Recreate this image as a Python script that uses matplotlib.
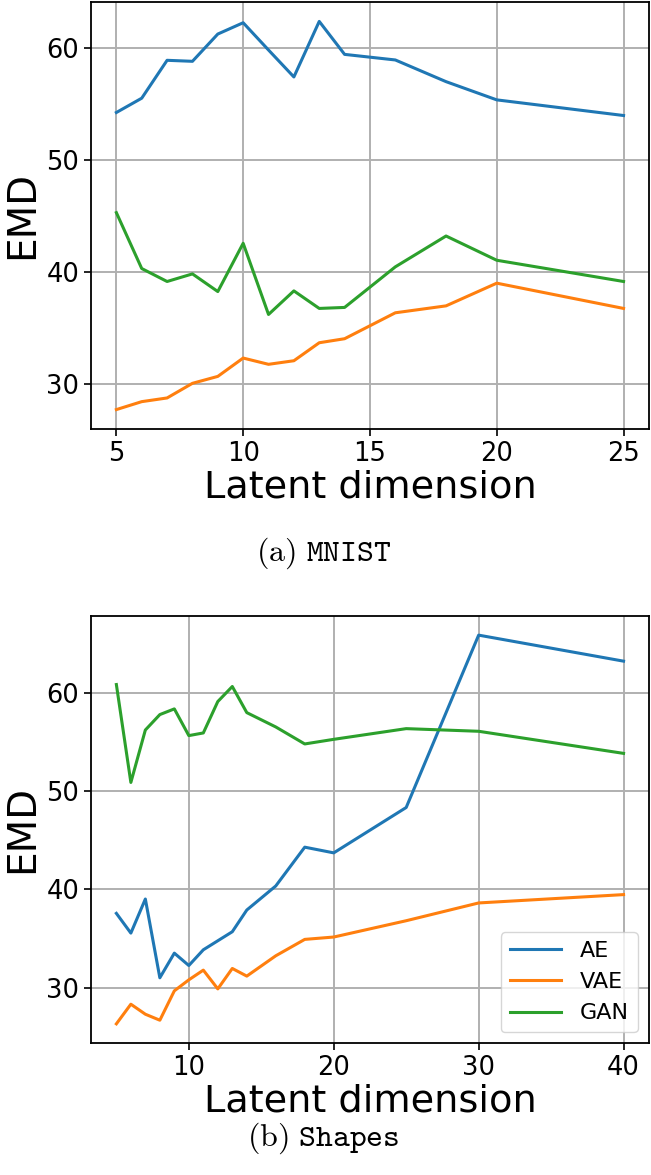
import numpy as np
from matplotlib import pyplot as plt
from matplotlib.ticker import MultipleLocator

plt.rcParams["mathtext.fontset"] = "cm"

# (a) MNIST
dims_mnist = [5, 6, 7, 8, 9, 10, 11, 12, 13, 14, 16, 18, 20, 25]
ae_mnist = [54.26, 55.54, 58.93, 58.84, 61.28, 62.29, 59.85, 57.44, 62.41,
            59.46, 58.96, 57.02, 55.39, 53.99]
vae_mnist = [27.68, 28.39, 28.72, 30.03, 30.65, 32.29, 31.73, 32.05, 33.66,
             34.02, 36.34, 36.96, 38.99, 36.73]
gan_mnist = [45.30, 40.30, 39.14, 39.82, 38.24, 42.56, 36.19, 38.30, 36.73,
             36.82, 40.45, 43.21, 41.04, 39.14]

# (b) Shapes
dims_shapes = [5, 6, 7, 8, 9, 10, 11, 12, 13, 14, 16, 18, 20, 25, 30, 40]
ae_shapes = [37.55, 35.54, 39.01, 30.99, 33.50, 32.24, 33.84, 34.76, 35.68,
             37.89, 40.34, 44.29, 43.71, 48.33, 65.88, 63.23]
vae_shapes = [26.30, 28.30, 27.28, 26.67, 29.66, 30.78, 31.77, 29.86, 31.94,
              31.16, 33.23, 34.90, 35.14, 36.80, 38.61, 39.46]
gan_shapes = [60.85, 50.88, 56.22, 57.79, 58.37, 55.65, 55.92, 59.12, 60.65,
              57.99, 56.53, 54.80, 55.27, 56.36, 56.09, 53.84]

labels = ["AE", "VAE", "GAN"]
captions = [r"$\mathrm{(a)}\ \mathtt{MNIST}$", r"$\mathrm{(b)}\ \mathtt{Shapes}$"]


def draw_panel(ax, dims, series):
    for vals, lab in zip(series, labels):
        ax.plot(dims, vals, lw=2.2, label=lab)
    ax.yaxis.set_major_locator(MultipleLocator(10))
    ax.grid(True, color="#b0b0b0", lw=1.4)
    ax.set_axisbelow(True)
    ax.set_xlabel("Latent dimension", fontsize=27.5, labelpad=2)
    ax.set_ylabel("EMD", fontsize=28)
    ax.tick_params(labelsize=18.5, length=5, width=1.2)
    for sp in ax.spines.values():
        sp.set_linewidth(1.3)
    return ax


fig = plt.figure(figsize=(6.51, 11.75), dpi=100)
ax1 = fig.add_axes([0.1398, 0.6349, 0.857, 0.3634])
ax2 = fig.add_axes([0.1398, 0.1121, 0.857, 0.3639])

draw_panel(ax1, dims_mnist, [ae_mnist, vae_mnist, gan_mnist])
draw_panel(ax2, dims_shapes, [ae_shapes, vae_shapes, gan_shapes])
ax2.legend(loc="lower right", fontsize=16, handlelength=2.3,
           handletextpad=0.85, borderaxespad=0.5)

fig.text(0.497, 1 - 553 / 1175, captions[0], fontsize=23, ha="center", va="center")
fig.text(0.497, 1 - 1138 / 1175, captions[1], fontsize=23, ha="center", va="center")

fig.savefig("out.png", dpi=100)
